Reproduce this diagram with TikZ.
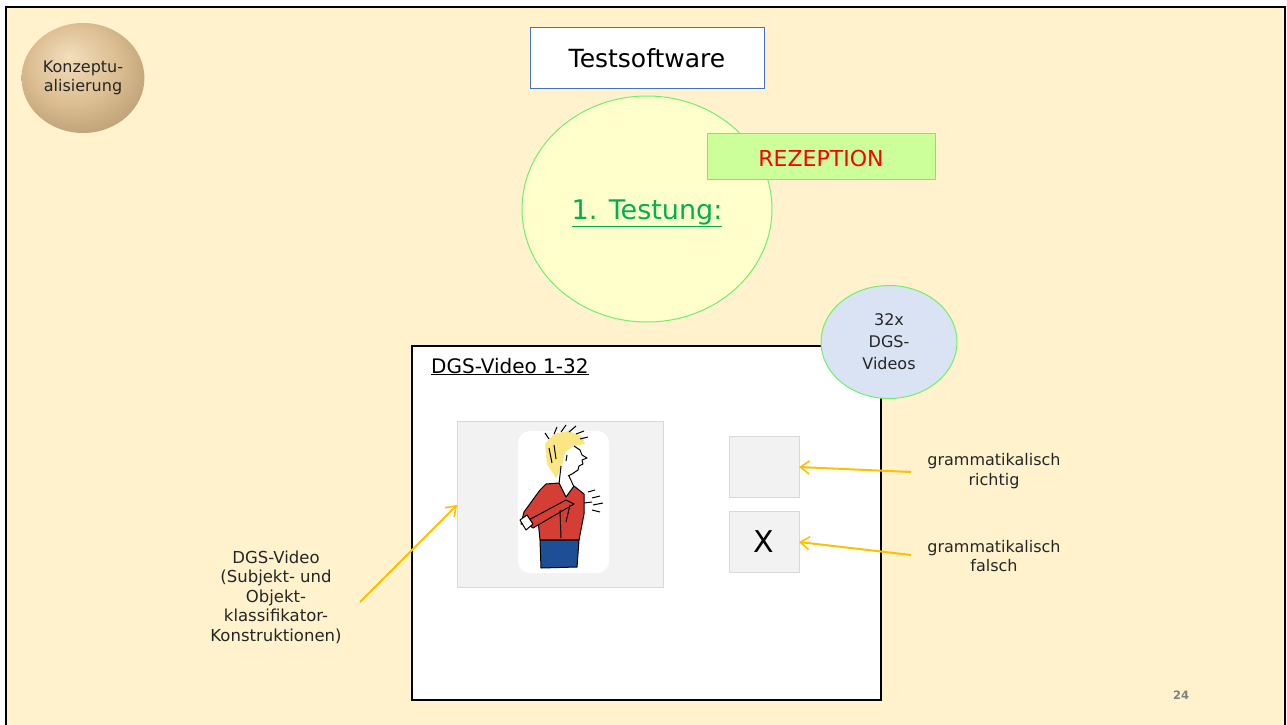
\documentclass[tikz,border=0pt]{standalone}
\usepackage{fontspec}
\setmainfont{DejaVu Sans}
\usetikzlibrary{shapes.geometric,arrows.meta}

\definecolor{slidebg}{RGB}{255,242,204}
\definecolor{txt}{RGB}{38,38,38}
\definecolor{boxblue}{RGB}{68,114,196}
\definecolor{lightgreen}{RGB}{110,240,110}
\definecolor{paleyellow}{RGB}{255,255,204}
\definecolor{testgreen}{RGB}{0,176,80}
\definecolor{rezfill}{RGB}{204,255,153}
\definecolor{rezred}{RGB}{255,0,0}
\definecolor{paleblue}{RGB}{218,227,243}
\definecolor{panelgray}{RGB}{242,242,242}
\definecolor{panelline}{RGB}{217,217,217}
\definecolor{arrorange}{RGB}{255,192,0}
\definecolor{pagegray}{RGB}{128,128,128}
\definecolor{sphA}{RGB}{242,222,188}
\definecolor{sphB}{RGB}{220,190,146}
\definecolor{sphC}{RGB}{170,140,100}
\definecolor{hairyellow}{RGB}{250,230,130}
\definecolor{shirtred}{RGB}{212,62,52}
\definecolor{pantsblue}{RGB}{30,78,150}

\pgfdeclareradialshading{sphereshade}{\pgfpoint{-6bp}{10bp}}{%
  color(0bp)=(sphA); color(18bp)=(sphB); color(40bp)=(sphC); color(50bp)=(sphC)}

\newcommand{\fsz}[2]{\fontsize{#1}{#2}\selectfont}

\tikzset{
  label text/.style={text=txt, align=center, font=\fsz{16}{19.5}},
  gray box/.style={draw=panelline, fill=panelgray, line width=1pt},
  pointer/.style={draw=arrorange, line width=2pt,
    -{Straight Barb[length=9pt,width=13pt,line width=1.6pt]}},
}

\begin{document}
\begin{tikzpicture}[x=1pt,y=-1pt]
\useasboundingbox (0,0) rectangle (1287,725);
% slide area with its frame
\fill[white] (0,0) rectangle (1287,725);
\fill[slidebg] (6,7) rectangle (1285,725);
\draw[line width=2pt, black] (6,727) -- (6,7) -- (1285,7) -- (1285,727);

% section badge
\node[ellipse, minimum width=122pt, minimum height=110pt, shading=sphereshade,
      text=txt, align=center, font=\fsz{16}{18.5}] (konz) at (83,78)
      {Konzeptu-\\alisierung};

% title box
\node[draw=boxblue, fill=white, line width=1pt, minimum width=234pt,
      minimum height=60pt, text=black, font=\fsz{25}{28}] (ts) at (647,58)
      {Testsoftware};

% first test round
\node[ellipse, draw=lightgreen, fill=paleyellow, line width=1pt,
      minimum width=250pt, minimum height=226pt] (circ) at (647,209) {};
\node[anchor=base, text=testgreen, font=\fsz{27}{30}, inner sep=0pt] (t1)
      at (647,219) {\underline{1. Testung:}};
\node[draw=lightgreen, fill=rezfill, line width=1pt, minimum width=228pt,
      minimum height=46pt] (rez) at (821,156) {};
\node[anchor=base, text=rezred, font=\fsz{22}{25}, inner sep=0pt] (reztxt)
      at (821,166) {REZEPTION};

% software window
\draw[line width=1.5pt, black, fill=white] (412,346) rectangle (881,700);
\coordinate (win) at (412,346);
\node[anchor=base west, text=black, font=\fsz{20}{24}, inner sep=0pt] (wtitle)
      at (431,373) {\underline{DGS-Video 1-32}};

\node[ellipse, draw=lightgreen, fill=paleblue, line width=1pt,
      minimum width=136pt, minimum height=113pt, align=center, text=txt,
      font=\fsz{16}{22}] (cnt) at (889,342) {32x\\DGS-\\Videos};

% video panel
\node[gray box, minimum width=206pt, minimum height=166pt] (panel) at (560,504) {};
\fill[white, rounded corners=12pt] (518,431) rectangle (609,573);

% signing figure
\begin{scope}[line width=1pt, line join=round]
  % hair
  \fill[hairyellow] (545,444) -- (554,434) -- (568,431) -- (582,436) -- (585,444)
       -- (574,446) -- (565,452) -- (562,466) -- (556,478) -- (547,464) -- cycle;
  \draw (554,434) -- (557,427) (561,432) -- (566,425) (569,432) -- (576,426)
        (576,434) -- (584,431) (580,439) -- (588,437) (549,439) -- (545,433);
  \draw (549,448) -- (552,463) (554,445) -- (556,459);
  % face profile
  \draw (574,446) -- (580,450) -- (582,455) -- (587,458) -- (582,460)
        -- (583,464) -- (579,466) -- (578,470) -- (572,474) -- (568,476);
  \draw (567,455) -- (566,461);
  % neck
  \draw (561,466) -- (559,484) (569,476) -- (574,487);
  % shirt
  \filldraw[fill=shirtred] (546,484) -- (559,483) -- (566,497) -- (574,486)
       -- (584,494) -- (584,514) -- (579,540) -- (540,540) -- (538,520)
       -- (530,526) -- (521,524) -- (524,512) -- (540,490) -- cycle;
  \filldraw[fill=shirtred] (525,522) -- (566,500) -- (574,504) -- (533,528) -- cycle;
  \draw (560,510) -- (561,538) (570,505) -- (566,522);
  % hands
  \filldraw[fill=white] (520,520) -- (527,515) -- (533,524) -- (526,530) -- cycle;
  \draw (584,503) -- (592,502) (592,498) -- (600,496) (593,505) -- (603,503)
        (592,510) -- (600,512) (588,492) -- (595,490);
  % trousers
  \filldraw[fill=pantsblue] (540,540) -- (579,540) -- (577,567) -- (541,568) -- cycle;
\end{scope}

% answer buttons
\node[gray box, minimum width=70pt, minimum height=61pt] (yes) at (764,466.5) {};
\node[gray box, minimum width=70pt, minimum height=61pt, text=black,
      font=\fsz{30}{34}] (no) at (764,541.5) {X};

% annotations
\node[label text] (lblyes) at (994,471) {grammatikalisch\\richtig};
\node[label text] (lblno) at (994,556) {grammatikalisch\\falsch};
\node[label text, font=\fsz{16.5}{19.5}] (lblvid) at (276,597)
      {DGS-Video\\(Subjekt- und\\Objekt-\\klassifikator-\\Konstruktionen)};

\coordinate (fromyes) at (911,472);
\coordinate (toyes) at (799,467);
\coordinate (fromno) at (911,555);
\coordinate (tono) at (799,542);
\coordinate (fromvid) at (360,602);
\coordinate (tovid) at (457,505);
\draw[pointer] (fromyes) -- (toyes);
\draw[pointer] (fromno) -- (tono);
\draw[pointer] (fromvid) -- (tovid);

% page number
\node[text=pagegray, font=\fsz{11.5}{13}\bfseries] (page) at (1181,695) {24};
\end{tikzpicture}
\end{document}
